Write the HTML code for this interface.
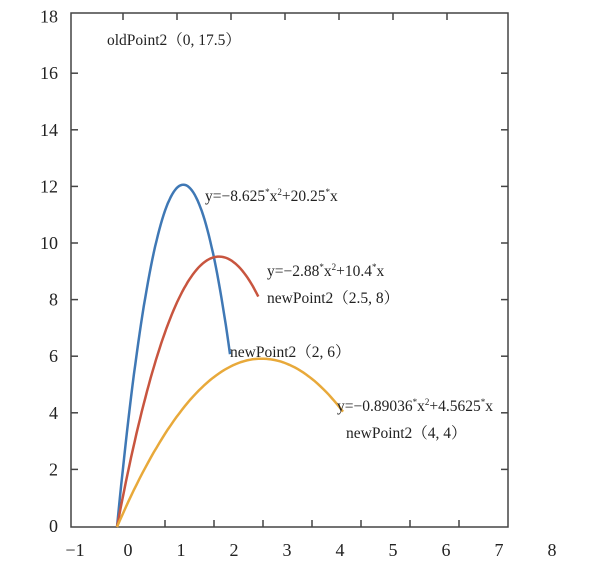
<!DOCTYPE html>
<html><head><meta charset="utf-8"><style>
html,body{margin:0;padding:0;background:#fff;}
svg text{font-family:"Liberation Serif","Noto Serif CJK SC",serif;fill:#222;}
</style></head><body>
<svg width="616" height="567" xmlns="http://www.w3.org/2000/svg">
<rect x="71" y="13" width="437" height="514" fill="none" stroke="#444" stroke-width="1.5"/>
<g id="ticks"></g>
<g id="curves"></g>
<g font-size="15.5">
<text x="107" y="45">oldPoint2（0, 17.5）</text>
<text x="205" y="201">y=−8.625<tspan font-size="9" dy="-6">*</tspan><tspan dy="6">x</tspan><tspan font-size="9" dy="-6">2</tspan><tspan dy="6">+20.25</tspan><tspan font-size="9" dy="-6">*</tspan><tspan dy="6">x</tspan></text>
<text x="267" y="276">y=−2.88<tspan font-size="9" dy="-6">*</tspan><tspan dy="6">x</tspan><tspan font-size="9" dy="-6">2</tspan><tspan dy="6">+10.4</tspan><tspan font-size="9" dy="-6">*</tspan><tspan dy="6">x</tspan></text>
<text x="267" y="303">newPoint2（2.5, 8）</text>
<text x="230" y="357">newPoint2（2, 6）</text>
<text x="337" y="411">y=−0.89036<tspan font-size="9" dy="-6">*</tspan><tspan dy="6">x</tspan><tspan font-size="9" dy="-6">2</tspan><tspan dy="6">+4.5625</tspan><tspan font-size="9" dy="-6">*</tspan><tspan dy="6">x</tspan></text>
<text x="346" y="438">newPoint2（4, 4）</text>
</g>
</svg>
<script>
const xTickLabels=["−1","0","1","2","3","4","5","6","7","8"];
const yTickLabels=["0","2","4","6","8","10","12","14","16","18"];
const curveA=[-8.625,-2.88,-0.89036];
const curveB=[20.25,10.4,4.5625];
const curveEnd=[2,2.5,4];
const colors=["#3f78b5","#c8553f","#e8a93a"];
const NS="http://www.w3.org/2000/svg";
const X=v=>117+v*56.5, Y=v=>527-v*28.8;
const tg=document.getElementById('ticks');
function mk(tag,attrs,parent){const e=document.createElementNS(NS,tag);for(const k in attrs)e.setAttribute(k,attrs[k]);parent.appendChild(e);return e;}
xTickLabels.forEach((l,i)=>{
  const px=75+i*53;
  const t=mk('text',{x:px,y:556,'font-size':18,'text-anchor':'middle'},tg);
  
  
  t.textContent=l;
  if(i>=2&&i<=8){
    const tk=mk('line',{x1:165+(i-2)*49,x2:165+(i-2)*49,y1:527,y2:520,stroke:'#444','stroke-width':1.5},tg);
    
    
    const tt=mk('line',{x1:123+(i-2)*54,x2:123+(i-2)*54,y1:13,y2:20,stroke:'#444','stroke-width':1.5},tg);
    
    
  }
});
yTickLabels.forEach((l,i)=>{
  const py=526-i*56.6;
  const t=mk('text',{x:58,y:py+6,'font-size':18,'text-anchor':'end'},tg);
  
  
  t.textContent=l;
  if(i>0&&i<9){
    const a=mk('line',{x1:71,x2:78,y1:py,y2:py,stroke:'#444','stroke-width':1.5},tg);
    
    
    const b=mk('line',{x1:508,x2:501,y1:py,y2:py,stroke:'#444','stroke-width':1.5},tg);
    
    
  }
});
const cg=document.getElementById('curves');
curveA.forEach((a,i)=>{
  let d='';
  for(let k=0;k<=80;k++){const x=curveEnd[i]*k/80;const y=a*x*x+curveB[i]*x;d+=(k?'L':'M')+X(x).toFixed(1)+','+Y(y).toFixed(1);}
  const p=mk('path',{d:d,fill:'none',stroke:colors[i],'stroke-width':2.5},cg);
  
  
});
</script>
</body></html>
